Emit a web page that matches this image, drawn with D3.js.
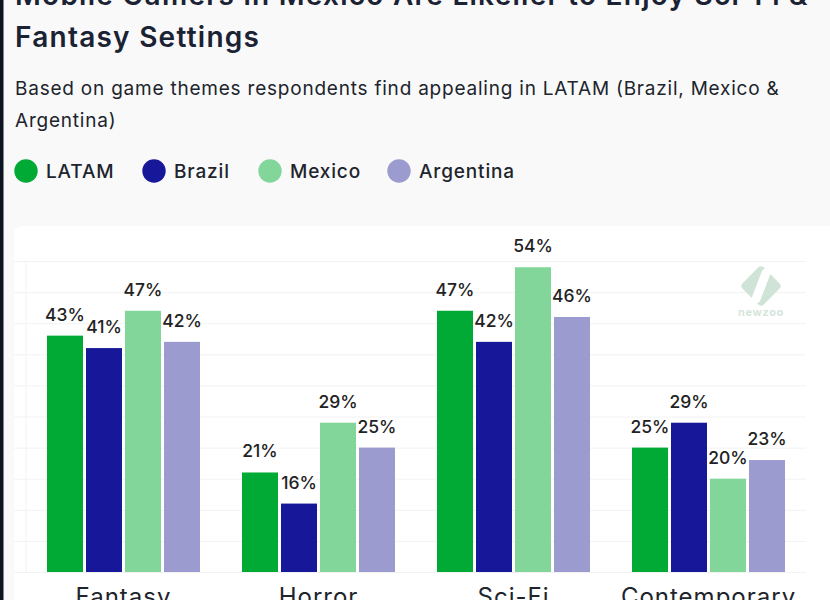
<!DOCTYPE html>
<html>
<head>
<meta charset="utf-8">
<script src="https://cdn.jsdelivr.net/npm/d3@7"></script>
<style>
  html, body { margin: 0; padding: 0; background: #f9f9fa; overflow: hidden; }
  text { font-family: Inter, "Open Sans", sans-serif; }
</style>
</head>
<body>
<div id="chart"></div>
<script>
const categories = ['Fantasy', 'Horror', 'Sci-Fi', 'Contemporary'];
const seriesNames = ['LATAM', 'Brazil', 'Mexico', 'Argentina'];
const seriesColors = ['#00aa34', '#17179a', '#82d69a', '#9b9bd0'];
const latam = [43, 21, 47, 25];
const brazil = [41, 16, 42, 29];
const mexico = [47, 29, 54, 20];
const argentina = [42, 25, 46, 23];
const gridTicks = [5, 10, 15, 20, 25, 30, 35, 40, 45, 50, 55];

const titleLines = ['Mobile Gamers in Mexico Are Likelier to Enjoy Sci-Fi &', 'Fantasy Settings'];
const subtitleLines = ['Based on game themes respondents find appealing in LATAM (Brazil, Mexico &', 'Argentina)'];

const allSeries = [latam, brazil, mexico, argentina];

const svg = d3.select('#chart')
  .append('svg')
  .attr('width', 830)
  .attr('height', 600)
  .style('display', 'block');

// page edge and card
svg.append('rect').attr('width', 830).attr('height', 600).attr('fill', '#f9f9fa');
svg.append('rect').attr('width', 3.5).attr('height', 600).attr('fill', '#0b1420');
svg.append('rect')
  .attr('x', 14).attr('y', 226)
  .attr('width', 840).attr('height', 400)
  .attr('rx', 8)
  .attr('fill', '#ffffff');

// header
svg.selectAll('text.title')
  .data(titleLines)
  .join('text')
  .attr('class', 'title')
  .attr('x', 15)
  .attr('y', (d, i) => 5 + i * 42)
  .attr('font-size', 28)
  .attr('font-weight', 600)
  .attr('letter-spacing', 1.25)
  .attr('fill', '#1a2233')
  .text(d => d);

svg.selectAll('text.subtitle')
  .data(subtitleLines)
  .join('text')
  .attr('class', 'subtitle')
  .attr('x', 15)
  .attr('y', (d, i) => 95 + i * 32)
  .attr('font-size', 19)
  .attr('letter-spacing', 0.78)
  .attr('fill', '#20242c')
  .text(d => d);

// legend
const legendCx = [26, 154, 270, 399];
const legend = svg.selectAll('g.legend')
  .data(seriesNames)
  .join('g')
  .attr('class', 'legend')
  .attr('transform', (d, i) => `translate(${legendCx[i]}, 171)`);
legend.append('circle')
  .attr('r', 11.7)
  .attr('fill', (d, i) => seriesColors[i]);
legend.append('text')
  .attr('x', 20)
  .attr('y', 7)
  .attr('font-size', 19)
  .attr('font-weight', 500)
  .attr('letter-spacing', 0.85)
  .attr('fill', '#20242c')
  .text(d => d);

// scales
const x0 = d3.scaleBand()
  .domain(categories)
  .range([26, 806])
  .paddingInner(0.2)
  .paddingOuter(0.1);
const x1 = d3.scaleBand()
  .domain(seriesNames)
  .range([0, x0.bandwidth()])
  .paddingInner(3 / 39)
  .paddingOuter(1.5 / 39);
const y = d3.scaleLinear().domain([5, 55]).range([572, 261]);

// grid
const grid = svg.append('g')
  .attr('transform', 'translate(26, 0)')
  .call(d3.axisLeft(y).tickValues(gridTicks).tickSize(12).tickFormat(''));
grid.selectAll('.tick line').attr('x2', 780).attr('x1', -12).attr('stroke', '#f2f2f3');
grid.select('.domain').attr('stroke', '#f2f2f3').attr('d', 'M0,261V572');

// bars
const groups = svg.selectAll('g.group')
  .data(categories)
  .join('g')
  .attr('class', 'group')
  .attr('transform', d => `translate(${x0(d)}, 0)`);

seriesNames.forEach((name, s) => {
  groups.append('rect')
    .attr('x', x1(name))
    .attr('y', (d, i) => y(allSeries[s][i]))
    .attr('width', x1.bandwidth())
    .attr('height', (d, i) => y(5) - y(allSeries[s][i]))
    .attr('fill', seriesColors[s]);
  groups.append('text')
    .attr('x', x1(name) + x1.bandwidth() / 2)
    .attr('y', (d, i) => y(allSeries[s][i]) - 15)
    .attr('text-anchor', 'middle')
    .attr('font-size', 17.5)
    .attr('font-weight', 500)
    .attr('fill', '#222222')
    .text((d, i) => allSeries[s][i] + '%');
});

// category labels
const xAxis = svg.append('g')
  .attr('transform', 'translate(0, 572)')
  .call(d3.axisBottom(x0).tickSize(0).tickPadding(15.5));
xAxis.select('.domain').remove();
xAxis.selectAll('text')
  .attr('font-size', 24)
  .attr('letter-spacing', 1)
  .attr('font-family', 'Inter, sans-serif')
  .attr('fill', '#20242c');

// watermark
const logo = svg.append('g').attr('transform', 'translate(761, 286)');
logo.append('rect')
  .attr('x', -15).attr('y', -15)
  .attr('width', 30).attr('height', 30)
  .attr('rx', 4)
  .attr('transform', 'rotate(45)')
  .attr('fill', '#cfe3d6');
logo.append('line')
  .attr('x1', 5).attr('y1', -13)
  .attr('x2', -5).attr('y2', 13)
  .attr('stroke', '#ffffff')
  .attr('stroke-width', 9)
  .attr('stroke-linecap', 'round');
svg.append('text')
  .attr('x', 761).attr('y', 316)
  .attr('text-anchor', 'middle')
  .attr('font-size', 11)
  .attr('font-weight', 700)
  .attr('letter-spacing', 0.6)
  .attr('fill', '#d5e5db')
  .text('newzoo');
</script>
</body>
</html>
